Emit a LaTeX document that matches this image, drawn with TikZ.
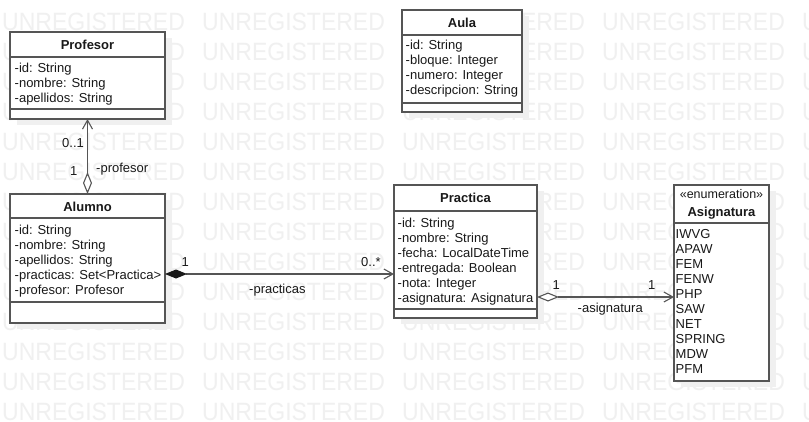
\documentclass[tikz,border=0pt]{standalone}
\usepackage{fontspec}
\usepackage{graphicx}
\setmainfont{Liberation Sans}
\usetikzlibrary{arrows.meta}
\definecolor{wm}{RGB}{240,240,240}
\definecolor{shad}{RGB}{240,240,240}
\definecolor{bc}{RGB}{85,85,85}
\definecolor{tc}{RGB}{25,25,25}
\tikzset{
  umlbox/.style={draw=bc, line width=1.2pt, fill=white, rectangle, inner sep=0pt, outer sep=0pt, anchor=north west},
  sepline/.style={draw=bc, line width=1.2pt},
  boxtitle/.style={font=\fontsize{13}{15}\selectfont\bfseries, text=tc, anchor=base, inner sep=0pt},
  stereo/.style={font=\fontsize{12.5}{15}\selectfont, text=tc, anchor=base, inner sep=0pt},
  attr/.style={font=\fontsize{13}{15}\selectfont, text=tc, anchor=base west, inner sep=0pt},
  wmtext/.style={font=\fontsize{25}{25}\selectfont, text=wm, anchor=base west, inner sep=0pt},
  conn/.style={draw=bc, line width=1.1pt},
  openhead/.tip={Straight Barb[length=9pt, width=10pt]},
  hollowdia/.tip={Diamond[fill=white, length=22pt, width=9pt]},
  filleddia/.tip={Diamond[length=22pt, width=9pt, color=tc]}
}
\begin{document}
\begin{tikzpicture}[x=1pt, y=-1pt]
\useasboundingbox (0,0) rectangle (809,421);
\fill[white] (0,0) rectangle (809,421);
% shadows
\fill[shad] (17,38) rectangle (172,125);
\fill[shad] (17,200) rectangle (172,329);
\fill[shad] (401,191) rectangle (544,324);
\fill[shad] (409,16) rectangle (529,118);
\fill[shad] (681,191) rectangle (776,387);
% watermark
\foreach \r in {1,...,14} {
  \foreach \c in {0,...,4} {
    \node[wmtext] (wm-\r-\c) at ({2+200*\c},{30*\r}) {\scalebox{0.92}[1]{UNREGISTERED}};
  }
}
% Profesor
\node[umlbox, minimum width=155pt, minimum height=87pt] (prof) at (10,32) {};
\draw[sepline] (10,57) -- (165,57);
\draw[sepline] (10,109) -- (165,109);
\node[boxtitle] (profT) at (87.5,49) {Profesor};
\foreach \t [count=\i from 0] in {-id: String, -nombre: String, -apellidos: String}
  \node[attr] (profA\i) at (14.5,{72+15*\i}) {\t};
% Alumno
\node[umlbox, minimum width=155pt, minimum height=129pt] (alumno) at (10,194) {};
\draw[sepline] (10,218) -- (165,218);
\draw[sepline] (10,302) -- (165,302);
\node[boxtitle] (alumnoT) at (87.5,211.5) {Alumno};
\foreach \t [count=\i from 0] in {-id: String, -nombre: String, -apellidos: String, -practicas: Set<Practica>, -profesor: Profesor}
  \node[attr] (alumnoA\i) at (14.5,{234.5+15*\i}) {\t};
% Practica
\node[umlbox, minimum width=143pt, minimum height=133pt] (prac) at (394,185) {};
\draw[sepline] (394,211) -- (537,211);
\draw[sepline] (394,309) -- (537,309);
\node[boxtitle] (pracT) at (465.5,202.5) {Practica};
\foreach \t [count=\i from 0] in {-id: String, -nombre: String, -fecha: LocalDateTime, -entregada: Boolean, -nota: Integer, -asignatura: Asignatura}
  \node[attr] (pracA\i) at (397.5,{227+15*\i}) {\t};
% Aula
\node[umlbox, minimum width=120pt, minimum height=102pt] (aula) at (402,10) {};
\draw[sepline] (402,35) -- (522,35);
\draw[sepline] (402,103) -- (522,103);
\node[boxtitle] (aulaT) at (462,27.5) {Aula};
\foreach \t [count=\i from 0] in {-id: String, -bloque: Integer, -numero: Integer, -descripcion: String}
  \node[attr] (aulaA\i) at (405.5,{49.5+15*\i}) {\t};
% Asignatura
\node[umlbox, minimum width=95pt, minimum height=196pt] (asig) at (674,185) {};
\draw[sepline] (674,223) -- (769,223);
\node[stereo] (asigS) at (721.5,198.5) {«enumeration»};
\node[boxtitle] (asigT) at (721.5,216.5) {Asignatura};
\foreach \t [count=\i from 0] in {IWVG, APAW, FEM, FENW, PHP, SAW, NET, SPRING, MDW, PFM}
  \node[attr] (asigA\i) at (675.5,{238+15*\i}) {\t};
% connectors
\coordinate (yAP) at (0,274);
\coordinate (yPA) at (0,297);
\draw[conn, hollowdia-openhead] (alumno.north) -- (prof.south);
\draw[conn, filleddia-openhead] (alumno.east |- yAP) -- (prac.west |- yAP);
\draw[conn, hollowdia-openhead] (prac.east |- yPA) -- (asig.west |- yPA);
% labels
\node[attr] (l01) at (62,147) {0..1};
\node[attr] (l1a) at (70,175) {1};
\node[attr] (lprof) at (96,172) {-profesor};
\node[attr] (l1b) at (181.5,266) {1};
\node[attr] (l0s) at (361,266) {0..*};
\node[attr] (lprac) at (249,293) {-practicas};
\node[attr] (l1c) at (552.5,289) {1};
\node[attr] (l1d) at (648,289) {1};
\node[attr] (lasig) at (577.5,312.5) {-asignatura};
\end{tikzpicture}
\end{document}
